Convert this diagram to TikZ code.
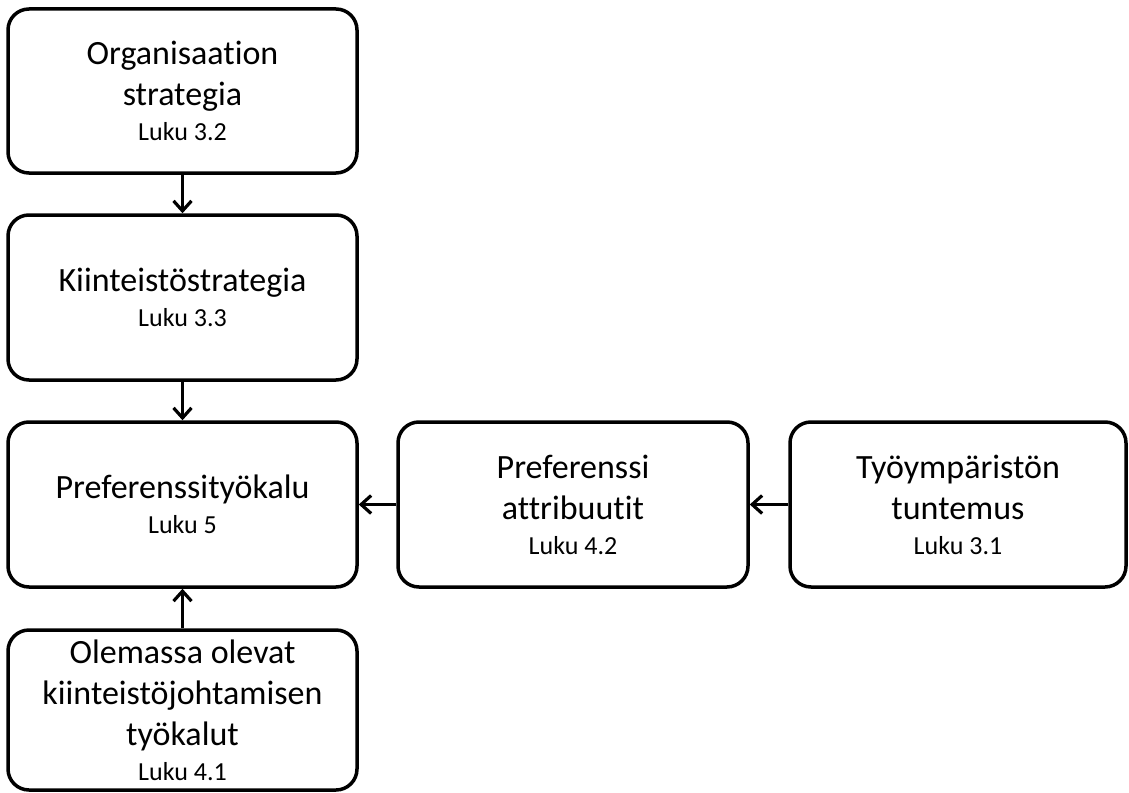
\documentclass[tikz,border=0pt]{standalone}
\usepackage{fontspec}
\setmainfont{Carlito}[Ligatures={NoCommon}]
\usetikzlibrary{arrows.meta}
\newcommand{\bigtxt}{\fontsize{34}{41}\selectfont}
\newcommand{\lukutxt}{\fontsize{26}{35}\selectfont}
\begin{document}
\begin{tikzpicture}[x=1pt,y=-1pt,
  box/.style={draw=black, line width=3.5pt, rounded corners=21pt, fill=white,
    inner sep=0pt, align=center, font=\bigtxt},
  link/.style={line width=3.5pt, -{Straight Barb[length=10pt,width=18pt,line width=3.2pt]}}]
  \useasboundingbox (0,0) rectangle (1129,792);

  \node[box, minimum width=349pt, minimum height=164pt] (org) at (182.5,91)
    {Organisaation\\strategia\\[-6pt]{\lukutxt Luku 3.2}};
  \node[box, minimum width=349pt, minimum height=165pt] (kiint) at (182.5,297.5)
    {Kiinteistöstrategia\\[-6pt]{\lukutxt Luku 3.3}};
  \node[box, minimum width=349pt, minimum height=165pt] (pref) at (182.5,504.5)
    {Preferenssityökalu\\[-6pt]{\lukutxt Luku 5}};
  \node[box, minimum width=349pt, minimum height=160pt] (olem) at (182.5,710)
    {Olemassa olevat\\kiinteistöjohtamisen\\työkalut\\[-6pt]{\lukutxt Luku 4.1}};
  \node[box, minimum width=350pt, minimum height=165pt] (attr) at (573,504.5)
    {Preferenssi\\attribuutit\\[-6pt]{\lukutxt Luku 4.2}};
  \node[box, minimum width=336pt, minimum height=165pt] (tyo) at (958,504.5)
    {Työympäristön\\tuntemus\\[-6pt]{\lukutxt Luku 3.1}};

  \draw[link] (org.south) -- (kiint.north);
  \draw[link] (kiint.south) -- (pref.north);
  \draw[link] (olem.north) -- (pref.south);
  \draw[link] (attr.west) -- (pref.east);
  \draw[link] (tyo.west) -- (attr.east);
\end{tikzpicture}
\end{document}
